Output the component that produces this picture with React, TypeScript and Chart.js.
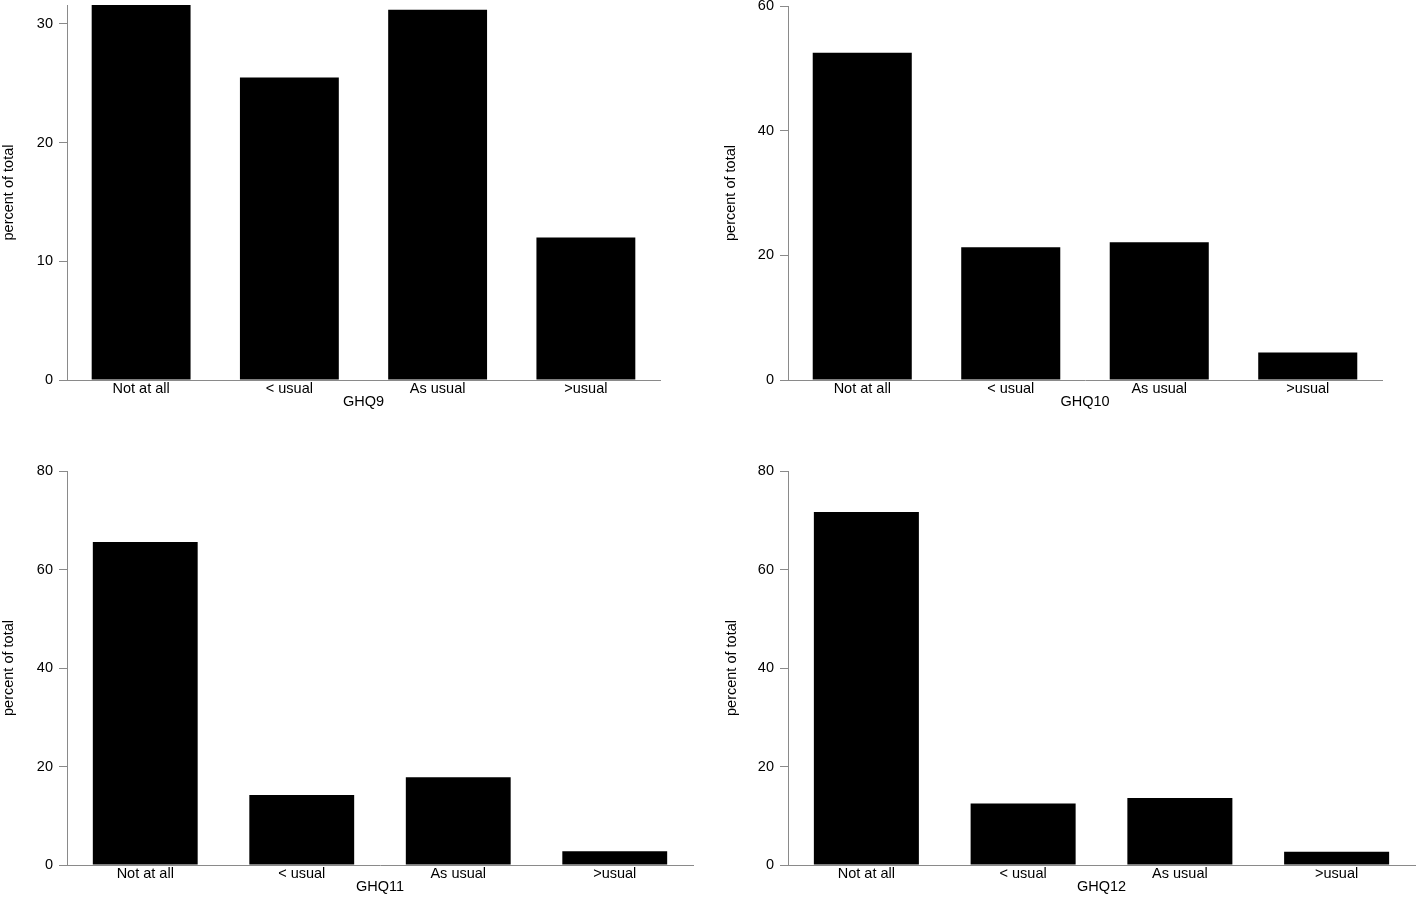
import React, { useEffect, useRef } from "react";
import { Chart, registerables } from "chart.js";

Chart.register(...registerables);

const categories = ["Not at all", "< usual", "As usual", ">usual"];
const ghq9 = [31.6, 25.5, 31.2, 12.0];
const ghq10 = [52.5, 21.3, 22.1, 4.4];
const ghq11 = [65.6, 14.2, 17.8, 2.8];
const ghq12 = [71.7, 12.5, 13.6, 2.7];
const ticks9 = [0, 10, 20, 30];
const ticks10 = [0, 20, 40, 60];
const ticks11 = [0, 20, 40, 60, 80];
const ticks12 = [0, 20, 40, 60, 80];
const panelTitles = ["GHQ9", "GHQ10", "GHQ11", "GHQ12"];
const yMaxes = [31.6, 60, 80, 80];
const yAxisTitle = "percent of total";

const FONT = "'Liberation Sans', Arial, Helvetica, sans-serif";
const AXIS_GREY = "#8a8a8a";

type PanelLayout = {
  left: number;
  top: number;
  w: number;
  h: number;
  yW: number;
  padTop: number;
  padRight: number;
  xH: number;
  xTitlePadBottom: number;
  yTitlePadTop: number;
  barPct: number;
};

const layouts: PanelLayout[] = [
  { left: 0, top: 0, w: 700, h: 420, yW: 67, padTop: 5, padRight: 40, xH: 40, xTitlePadBottom: 9, yTitlePadTop: 0, barPct: 0.667 },
  { left: 700, top: 0, w: 718, h: 420, yW: 88, padTop: 6, padRight: 36, xH: 40, xTitlePadBottom: 9, yTitlePadTop: 22, barPct: 0.667 },
  { left: 0, top: 440, w: 720, h: 457, yW: 67, padTop: 31, padRight: 27, xH: 32, xTitlePadBottom: 1, yTitlePadTop: 0, barPct: 0.67 },
  { left: 700, top: 440, w: 718, h: 457, yW: 88, padTop: 31, padRight: 3, xH: 32, xTitlePadBottom: 1, yTitlePadTop: 23, barPct: 0.67 },
];

const seriesList = [ghq9, ghq10, ghq11, ghq12];
const tickList = [ticks9, ticks10, ticks11, ticks12];

function Panel({ idx }: { idx: number }) {
  const ref = useRef<HTMLCanvasElement | null>(null);
  const L = layouts[idx];
  useEffect(() => {
    if (!ref.current) return;
    const tickVals = tickList[idx];
    const font = { family: FONT, size: 14.5, lineHeight: 1.2 };
    const chart = new Chart(ref.current, {
      type: "bar",
      data: {
        labels: categories,
        datasets: [
          {
            data: seriesList[idx],
            backgroundColor: "#000000",
            borderWidth: 0,
            barPercentage: L.barPct,
            categoryPercentage: 1,
          },
        ],
      },
      options: {
        responsive: false,
        animation: false,
        devicePixelRatio: 1,
        layout: { padding: { top: L.padTop, right: L.padRight, left: 0, bottom: 0 } },
        plugins: { legend: { display: false }, tooltip: { enabled: false }, title: { display: false } },
        scales: {
          x: {
            type: "category",
            offset: true,
            grid: { display: false, drawTicks: false },
            border: { display: true, color: AXIS_GREY, width: 1 },
            ticks: { color: "#000", font, padding: 0, maxRotation: 0, autoSkip: false },
            title: {
              display: true,
              text: panelTitles[idx],
              color: "#000",
              font,
              padding: { top: 0, bottom: L.xTitlePadBottom },
            },
            afterFit: (scale: any) => {
              scale.height = L.xH;
              scale.paddingLeft = 0;
              scale.paddingRight = 0;
            },
          },
          y: {
            type: "linear",
            min: 0,
            max: yMaxes[idx],
            grid: { drawOnChartArea: false, drawTicks: true, tickLength: 8, color: AXIS_GREY },
            border: { display: true, color: AXIS_GREY, width: 1 },
            ticks: { color: "#000", font, padding: 6 },
            title: {
              display: true,
              text: yAxisTitle,
              color: "#000",
              font,
              padding: { top: L.yTitlePadTop, bottom: 0 },
            },
            afterBuildTicks: (scale: any) => {
              scale.ticks = tickVals.map((v) => ({ value: v }));
            },
            afterFit: (scale: any) => {
              scale.width = L.yW;
              scale.paddingTop = 0;
              scale.paddingBottom = 0;
            },
          },
        },
      },
    });
    return () => chart.destroy();
  }, [idx]);
  return (
    <canvas
      ref={ref}
      width={L.w}
      height={L.h}
      style={{ position: "absolute", left: L.left, top: L.top, width: L.w, height: L.h }}
    />
  );
}

export default function App() {
  return (
    <div style={{ position: "absolute", left: 0, top: 0, width: 1418, height: 897, background: "#fff", overflow: "hidden" }}>
      {[0, 1, 2, 3].map((i) => (
        <Panel key={i} idx={i} />
      ))}
    </div>
  );
}
